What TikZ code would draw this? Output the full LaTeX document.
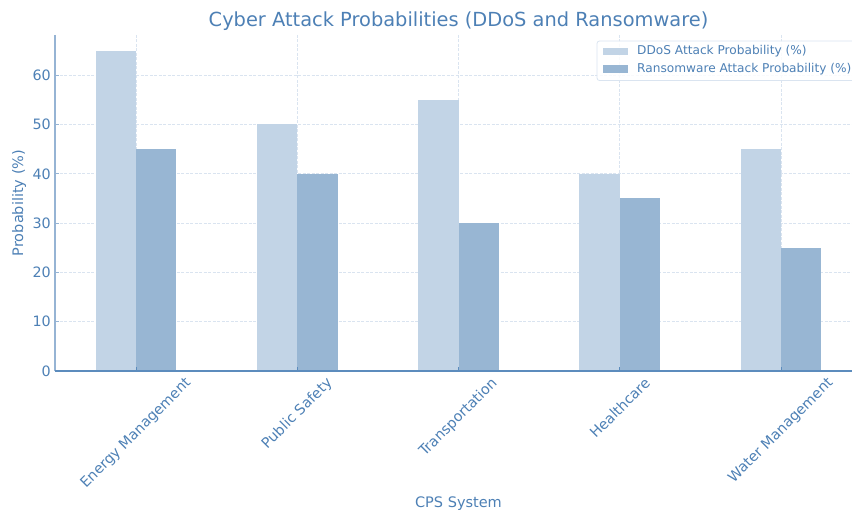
\documentclass[tikz,border=0pt]{standalone}
\usepackage{fontspec}
\setmainfont{DejaVu Sans}
\usepackage{graphicx}
\definecolor{txt}{RGB}{77,128,181}
\definecolor{ddos}{RGB}{194,212,230}
\definecolor{rans}{RGB}{152,182,211}
\definecolor{lspine}{RGB}{150,180,212}
\definecolor{bspine}{RGB}{92,140,189}
\definecolor{gridc}{RGB}{218,228,240}
\tikzset{
  gridline/.style={gridc, dash pattern=on 3pt off 1.5pt, line width=0.6pt},
  ddosbar/.style={fill=ddos, draw=none},
  ransbar/.style={fill=rans, draw=none},
  ticklab/.style={text=txt, font=\fontsize{14.3}{16}\selectfont, inner sep=0pt},
  axlab/.style={text=txt, font=\fontsize{14.5}{17}\selectfont, inner sep=0pt},
  leglab/.style={text=txt, font=\fontsize{12.15}{14}\selectfont, inner sep=0pt, anchor=west},
}
\begin{document}
\begin{tikzpicture}[x=1pt,y=-1pt]
\useasboundingbox (0,0) rectangle (852,513);
% y scale: value v -> 371 - 4.93 v
% grid
\foreach \v in {0,10,...,60} {
  \draw[gridline] (55,{371-4.93*\v}) -- (861,{371-4.93*\v});
}
\foreach \c in {136,297.25,458.5,619.75,781} {
  \draw[gridline] (\c,35) -- (\c,371);
}
% bars
\foreach \c/\d/\r in {136/65/45, 297.25/50/40, 458.5/55/30, 619.75/40/35, 781/45/25} {
  \fill[ddosbar] ({\c-40.3},371) rectangle (\c,{371-4.93*\d});
  \fill[ransbar] (\c,371) rectangle ({\c+40.3},{371-4.93*\r});
}
% ticks
\foreach \c in {136,297.25,458.5,619.75,781} {
  \draw[bspine, line width=0.8pt] (\c,371) -- (\c,367);
}
\foreach \v in {0,10,...,60} {
  \draw[lspine, line width=0.8pt] (55,{371-4.93*\v}) -- (59,{371-4.93*\v});
  \node[ticklab, anchor=east] (yt\v) at (51,{371-4.93*\v}) {\v};
}
% spines
\draw[lspine, line width=1.2pt] (55,35) -- (55,371);
\draw[bspine, line width=1.2pt] (55,371) -- (861,371);
% x tick labels
\node[ticklab, anchor=north] (x1) at (136,376) {\rotatebox{45}{Energy Management}};
\node[ticklab, anchor=north] (x2) at (297.25,376) {\rotatebox{45}{Public Safety}};
\node[ticklab, anchor=north] (x3) at (458.5,376) {\rotatebox{45}{Transportation}};
\node[ticklab, anchor=north] (x4) at (619.75,376) {\rotatebox{45}{Healthcare}};
\node[ticklab, anchor=north] (x5) at (781,376) {\rotatebox{45}{Water Management}};
% axis labels
\node[axlab] (xl) at (458.5,504) {CPS System};
\node[axlab, rotate=90] (yl) at (19,203) {Probability (\%)};
% title
\node[text=txt, font=\fontsize{19.4}{22}\selectfont, inner sep=0pt] (title) at (458.5,21) {Cyber Attack Probabilities (DDoS and Ransomware)};
% legend
\draw[gridc, fill=white, fill opacity=0.85, rounded corners=2.5pt, line width=0.8pt] (597,41) rectangle (858,80.5);
\fill[ddos] (602.5,48) rectangle (627.5,55.5);
\fill[rans] (602.5,65.5) rectangle (627.5,73);
\node[leglab] (l1) at (637,51.5) {DDoS Attack Probability (\%)};
\node[leglab] (l2) at (637,69.5) {Ransomware Attack Probability (\%)};
\end{tikzpicture}
\end{document}
